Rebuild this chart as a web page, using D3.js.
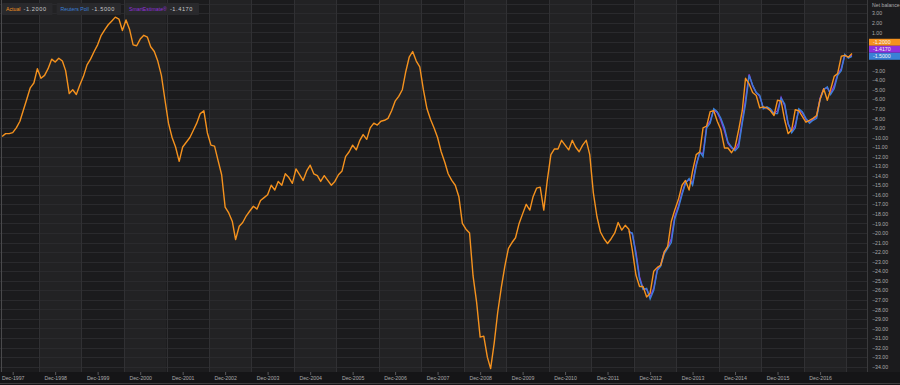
<!DOCTYPE html>
<html><head><meta charset="utf-8">
<script src="https://cdn.jsdelivr.net/npm/d3@7"></script>
<style>
html,body{margin:0;padding:0;background:#1b1b1d;}
svg{display:block;font-family:"Liberation Sans",Arial,sans-serif;}
</style></head>
<body><svg id="chart" width="900" height="385"></svg>
<script>
// ---------- DATA ----------
const actualStart = [1997, 8]; // Sep 1997
const actual = [
 -9.9, -9.6, -9.6, -9.5,
 -9.0, -8.3, -7.2, -6.0, -4.8, -4.3, -2.8, -3.8, -3.5, -2.8, -1.8, -2.1,
 -1.7, -2.0, -3.0, -5.4, -5.0, -5.5, -4.5, -3.6, -2.4, -1.8, -1.0, -0.3,
 0.7, 1.3, 1.8, 2.2, 2.6, 2.4, 1.2, 2.3, 1.3, -0.3, -0.4, 0.3,
 0.7, 0.5, -0.5, -1.0, -2.0, -3.5, -6.0, -8.5, -10.0, -11.0, -12.5, -11.0,
 -10.5, -10.0, -9.3, -8.5, -7.5, -7.2, -9.5, -10.8, -10.9, -12.4, -13.9, -17.3,
 -17.9, -18.8, -20.7, -19.3, -18.9, -18.2, -17.7, -17.2, -17.5, -16.6, -16.3, -16.0,
 -15.0, -15.5, -14.6, -15.0, -13.8, -14.2, -14.8, -13.3, -13.9, -14.5, -13.5, -12.9,
 -13.8, -14.0, -14.6, -14.0, -14.5, -15.0, -14.6, -13.9, -13.5, -12.0, -11.5, -10.8,
 -11.3, -10.3, -9.7, -10.2, -9.0, -8.5, -8.7, -8.3, -8.2, -8.0, -7.2, -6.2,
 -5.7, -5.0, -3.2, -1.6, -1.0, -2.0, -2.6, -5.0, -7.0, -8.1, -9.0, -10.0,
 -11.5, -12.6, -13.8, -14.5, -15.0, -16.2, -19.0, -19.6, -20.0, -24.5, -27.3, -30.9,
 -30.8, -33.0, -34.2, -31.5, -28.3, -25.7, -23.5, -21.6, -21.0, -20.5, -19.0, -18.0,
 -17.0, -17.6, -16.2, -15.3, -15.2, -17.6, -14.5, -11.8, -11.2, -11.2, -10.3, -10.8,
 -11.3, -10.3, -11.0, -11.5, -10.8, -10.3, -11.8, -15.8, -18.3, -19.9, -20.6, -21.1,
 -20.6, -20.0, -18.9, -19.7, -19.2, -19.6, -21.8, -24.4, -25.6, -25.6, -26.7, -26.3,
 -24.0, -23.6, -23.4, -22.0, -21.4, -18.8, -17.6, -16.5, -15.0, -14.5, -15.5, -13.5,
 -11.8, -11.5, -9.0, -8.8, -7.3, -7.2, -8.3, -9.2, -11.1, -11.1, -11.6, -11.0,
 -9.2, -7.2, -3.8, -4.4, -5.3, -5.6, -6.9, -6.8, -6.9, -7.2, -7.7, -6.1,
 -6.2, -8.2, -9.6, -9.2, -7.1, -7.2, -7.8, -8.4, -8.2, -8.0, -7.7, -6.0,
 -4.9, -6.1, -5.0, -3.6, -3.3, -1.5, -1.4, -1.6, -1.2
];
const pollStart = [2012, 5]; // Jun 2012
const poll = [
 -19.9, -20.0, -22.3, -24.8, -25.9, -25.8, -26.9,
 -26.0, -23.9, -23.5, -22.2, -21.6, -21.0, -18.5, -17.4, -16.0, -14.8, -14.3, -15.0,
 -13.0, -11.5, -12.0, -9.0, -8.5, -7.0, -7.3, -8.0, -9.0, -10.5, -11.0, -11.4,
 -11.0, -8.5, -6.5, -3.5, -4.5, -5.3, -5.6, -7.0, -6.8, -7.0, -7.5, -7.5,
 -5.9, -6.5, -8.5, -9.5, -9.0, -7.0, -7.3, -8.0, -8.5, -8.2, -8.0, -6.0,
 -5.0, -4.7, -5.5, -4.9, -3.5, -3.0, -1.3, -1.7, -1.5
];
const smartStart = [2012, 5];
const smart = [
 -19.8, -20.1, -22.0, -24.6, -25.8, -25.9, -26.7,
 -25.8, -23.8, -23.4, -22.0, -21.5, -20.6, -18.3, -17.2, -15.8, -14.7, -14.4, -14.8,
 -12.8, -11.6, -11.7, -8.8, -8.3, -7.1, -7.4, -8.2, -9.3, -10.6, -11.1, -11.3,
 -10.6, -8.3, -6.1, -3.4, -4.6, -5.3, -5.7, -6.9, -6.9, -7.1, -7.5, -7.2,
 -5.8, -6.7, -8.6, -9.4, -8.7, -7.1, -7.4, -8.1, -8.4, -8.1, -7.8, -5.9,
 -4.9, -4.8, -5.4, -4.6, -3.4, -2.8, -1.4, -1.6, -1.417
];
const seriesNames = ["Actual", "Reuters Poll", "SmartEstimate\u00AE"];
const lastValues = ["-1.2000", "-1.5000", "-1.4170"];
const xTickYears = d3.range(1997, 2017); // Dec-1997 ... Dec-2016
const yTickValues = d3.range(3, -35, -1);
const axisTitle = "Net balance";

// ---------- LAYOUT ----------
const W = 900, H = 385;
const plot = {left: 0, right: 867, top: 0, bottom: 372};
const C = {orange: "#f5921e", blue: "#3a80d6", purple: "#9130dc",
  bgDark: "#1b1b1d", bgLight: "#222224", grid: "#2a2a2d", vgrid: "#303033",
  text: "#a9a9ab"};
const FONT = "Liberation Sans, Arial, sans-serif";

const svg = d3.select("#chart");
const x = d3.scaleTime()
  .domain([new Date(1997, 11, 1), new Date(2016, 11, 1)])
  .range([12.7, 820.1]);
const y = d3.scaleLinear().domain([3, -34]).range([13.3, 366.7]);

const toSeries = (start, vals) => vals.map((v, i) => ({d: new Date(start[0], start[1] + i, 1), v}));
const sActual = toSeries(actualStart, actual);
const sPoll = toSeries(pollStart, poll);
const sSmart = toSeries(smartStart, smart);

svg.append("rect").attr("width", W).attr("height", H).attr("fill", C.bgDark);

svg.append("defs").append("clipPath").attr("id", "clip")
  .append("rect").attr("x", plot.left).attr("y", plot.top)
  .attr("width", plot.right - plot.left).attr("height", plot.bottom - plot.top);

const g = svg.append("g").attr("clip-path", "url(#clip)");

// alternating vertical bands, boundaries mid-July each year
const bandDates = d3.range(1996, 2019).map(yr => new Date(yr, 6, 15));
bandDates.forEach((d, i) => {
  if (i === bandDates.length - 1) return;
  const x0 = x(d), x1 = x(bandDates[i + 1]);
  g.append("rect").attr("x", x0).attr("y", plot.top).attr("width", x1 - x0)
    .attr("height", plot.bottom - plot.top)
    .attr("fill", (i % 2 === 0) ? C.bgLight : C.bgDark);
});
// horizontal grid
g.selectAll("line.hg").data(d3.range(4, -36, -1)).enter().append("line")
  .attr("x1", plot.left).attr("x2", plot.right)
  .attr("y1", d => Math.round(y(d)) + 0.5).attr("y2", d => Math.round(y(d)) + 0.5)
  .attr("stroke", C.grid).attr("stroke-width", 1);
// vertical grid
g.selectAll("line.vg").data(bandDates).enter().append("line")
  .attr("x1", d => Math.round(x(d)) + 0.5).attr("x2", d => Math.round(x(d)) + 0.5)
  .attr("y1", plot.top).attr("y2", plot.bottom)
  .attr("stroke", C.vgrid).attr("stroke-width", 1);

// lines
const line = d3.line().x(d => x(d.d)).y(d => y(d.v));
g.append("path").datum(sSmart).attr("d", line).attr("fill", "none")
  .attr("stroke", C.purple).attr("stroke-width", 1.4);
g.append("path").datum(sPoll).attr("d", line).attr("fill", "none")
  .attr("stroke", C.blue).attr("stroke-width", 1.4);
g.append("path").datum(sActual).attr("d", line).attr("fill", "none")
  .attr("stroke", C.orange).attr("stroke-width", 1.4).attr("stroke-linejoin", "round");

// borders
svg.append("rect").attr("x", 0).attr("y", plot.bottom).attr("width", W).attr("height", H - plot.bottom)
  .attr("fill", "#151517");
svg.append("line").attr("x1", 1.5).attr("x2", 1.5).attr("y1", 0).attr("y2", plot.bottom)
  .attr("stroke", "#4a4a4c");
svg.append("line").attr("x1", plot.right + 0.5).attr("x2", plot.right + 0.5).attr("y1", 0).attr("y2", plot.bottom)
  .attr("stroke", "#3a3a3c");
svg.append("line").attr("x1", 0).attr("x2", W).attr("y1", H - 1.5).attr("y2", H - 1.5)
  .attr("stroke", "#3c3c3e");

// x axis
const xAxis = d3.axisBottom(x)
  .tickValues(xTickYears.map(yr => new Date(yr, 11, 1)))
  .tickFormat(d3.timeFormat("Dec-%Y")).tickSize(3).tickSizeOuter(0);
const gx = svg.append("g").attr("transform", `translate(0,${plot.bottom})`).call(xAxis);
gx.select(".domain").remove();
gx.selectAll(".tick line").attr("stroke", "#5a5a5c");
gx.selectAll(".tick text").attr("fill", C.text).attr("font-size", 5.2)
  .attr("y", 4.5).attr("font-family", FONT);

// value tags on right axis
const tagH = 7;
const yLast = y(poll[poll.length - 1]);
const tags = [
  {c: C.orange, t: lastValues[0], cy: yLast - 2 * tagH},
  {c: C.purple, t: lastValues[2], cy: yLast - tagH},
  {c: C.blue, t: lastValues[1], cy: yLast}
];
const tagTop = tags[0].cy - tagH / 2, tagBottom = tags[2].cy + tagH / 2;

// y axis (right) — labels hidden behind the tags are dropped
const yAxis = d3.axisRight(y)
  .tickValues(yTickValues.filter(v => y(v) + 2 < tagTop || y(v) - 2 > tagBottom))
  .tickFormat(d3.format(".2f")).tickSize(0).tickPadding(5);
const gy = svg.append("g").attr("transform", `translate(${plot.right},0)`).call(yAxis);
gy.select(".domain").remove();
gy.selectAll(".tick text").attr("fill", C.text).attr("font-size", 5.2).attr("font-family", FONT);
svg.append("text").attr("x", 872).attr("y", 6.5).attr("fill", C.text)
  .attr("font-size", 5.2).text(axisTitle);

tags.forEach(tg => {
  svg.append("rect").attr("x", plot.right + 2).attr("y", tg.cy - tagH / 2)
    .attr("width", W - plot.right - 2).attr("height", tagH).attr("fill", tg.c);
  svg.append("text").attr("x", plot.right + 6).attr("y", tg.cy + 1.9)
    .attr("fill", "#f4f4f4").attr("font-size", 5.2).text(tg.t);
});

// legend: boxes laid out from measured text widths
const legendCols = [C.orange, C.blue, C.purple];
const legendOrder = [0, 1, 2];
let lx = 2;
legendOrder.forEach(i => {
  const grp = svg.append("g");
  const box = grp.append("rect").attr("x", lx).attr("y", 3).attr("height", 12)
    .attr("fill", "#29292c").attr("rx", 1);
  const nm = grp.append("text").attr("x", lx + 4).attr("y", 11).attr("fill", legendCols[i])
    .attr("font-size", 5.2).text(seriesNames[i]);
  const nw = nm.node().getComputedTextLength();
  const vl = grp.append("text").attr("x", lx + 4 + nw + 3).attr("y", 11).attr("fill", "#c8c8ca")
    .attr("font-size", 5.6).attr("letter-spacing", 0.6).text(lastValues[i]);
  const vw = vl.node().getComputedTextLength();
  const bw = 4 + nw + 3 + vw + 6;
  box.attr("width", bw);
  lx += bw + 4;
});
</script></body></html>
